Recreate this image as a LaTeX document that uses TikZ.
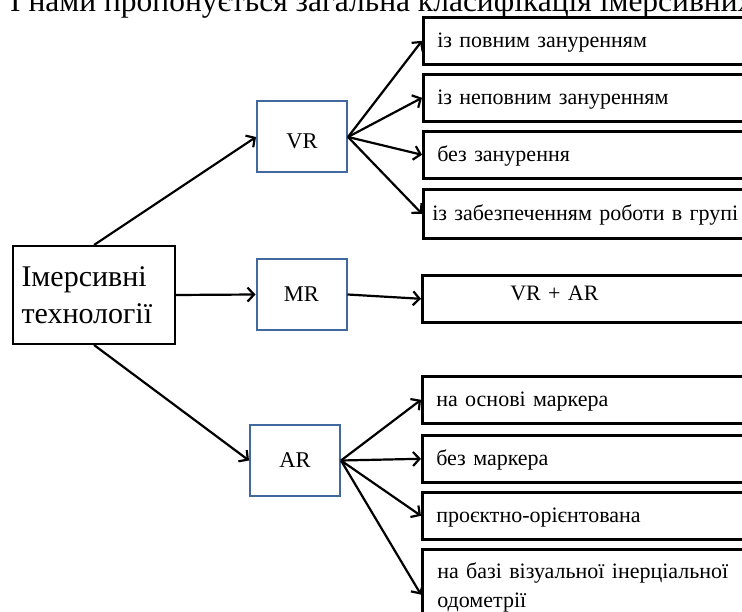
\documentclass[tikz,border=0pt]{standalone}
\usepackage{fontspec}
\setmainfont{Liberation Serif}
\usetikzlibrary{arrows.meta}
\definecolor{framebl}{HTML}{41689F}
\tikzset{
  topbox/.style={draw,line width=2pt,align=left,text width=145pt,inner xsep=8.5pt,minimum height=98pt,font=\fontsize{30}{37}\selectfont},
  kindbox/.style={draw=framebl,line width=2pt,minimum width=90pt,minimum height=71pt,font=\fontsize{22.5}{26}\selectfont},
  leafbox/.style={draw,line width=2.6pt,anchor=north west,text width=310pt,align=left,inner xsep=14pt,inner ysep=0pt,minimum height=47pt,text height=14pt,text depth=0pt,font=\fontsize{22}{29}\selectfont},
  arr/.style={line width=2.2pt,-{Straight Barb[length=6.5pt,width=14pt]}}
}
\begin{document}
\begin{tikzpicture}[x=1pt,y=-1pt]
\useasboundingbox (0,0) rectangle (742,612);
\clip (0,0) rectangle (742,612);
\node[anchor=base west,inner sep=0pt,font=\fontsize{31.5}{36}\selectfont] (lead) at (10,12) {І нами пропонується загальна класифікація імерсивних};
% root and the three kinds
\node[topbox] (imm) at (94,295) {Імерсивні\\технології};
\node[kindbox,text height=24pt] (vr) at (302,137) {VR};
\node[kindbox] (mr) at (301.5,294.5) {MR};
\node[kindbox] (ar) at (295,460.5) {AR};
% VR kinds
\node[leafbox] (vr1) at (422,16) {із повним зануренням};
\node[leafbox] (vr2) at (422,73) {із неповним зануренням};
\node[leafbox] (vr3) at (422,130) {без занурення};
\node[leafbox,inner xsep=9pt,minimum height=49pt] (vr4) at (422,188) {із забезпеченням роботи в групі};
% MR
\node[leafbox,text depth=10pt] (mix) at (421,274) {\hspace*{74pt}VR + AR};
% AR kinds
\node[leafbox] (ar1) at (421,375) {на основі маркера};
\node[leafbox] (ar2) at (421,434) {без маркера};
\node[leafbox] (ar3) at (421,491) {проєктно-орієнтована};
\node[leafbox,inner xsep=15pt,inner ysep=15.5pt,minimum height=0pt,text depth=] (ar4) at (421,548) {на базі візуальної інерціальної\\одометрії};
\draw[arr] (imm.north) -- (vr.west);
\draw[arr] (imm.east) -- (mr.west);
\draw[arr] (imm.south) -- (ar.west);
\foreach \k in {1,...,4}{\draw[arr] (vr.east) -- (vr\k.west);}
\draw[arr] (mr.east) -- (mix.west);
\foreach \k in {1,...,3}{\draw[arr] (ar.east) -- (ar\k.west);}
\draw[arr] (ar.east) -- ([yshift=-6pt]ar4.west);
\end{tikzpicture}
\end{document}
